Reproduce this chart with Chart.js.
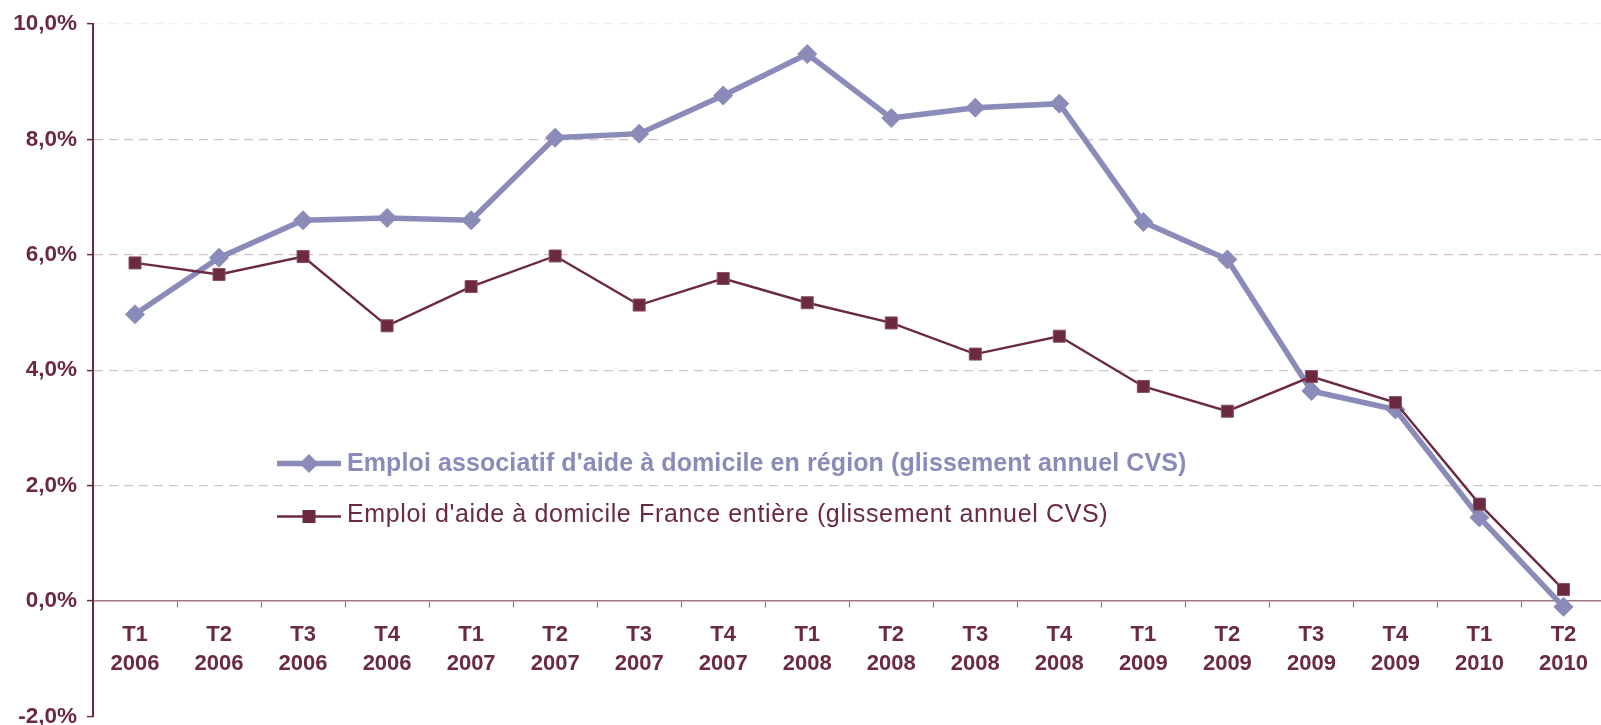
<!DOCTYPE html>
<html><head><meta charset="utf-8">
<script src="https://cdn.jsdelivr.net/npm/chart.js@4.4.0/dist/chart.umd.min.js"></script>
<style>
html,body{margin:0;padding:0;background:#fff;overflow:hidden;width:1601px;height:725px}
#wrap{position:absolute;left:0;top:0;width:1616px;height:740px}
</style>
</head><body><div id="wrap"><canvas id="c" width="1616" height="740"></canvas></div>
<script>
const quarters = ['T1','T2','T3','T4','T1','T2','T3','T4','T1','T2','T3','T4','T1','T2','T3','T4','T1','T2'];
const years = ['2006','2006','2006','2006','2007','2007','2007','2007','2008','2008','2008','2008','2009','2009','2009','2009','2010','2010'];
const regionSeries = [4.97,5.95,6.60,6.64,6.60,8.03,8.10,8.76,9.48,8.37,8.55,8.62,6.57,5.92,3.64,3.32,1.45,-0.10];
const franceSeries = [5.86,5.66,5.97,4.77,5.45,5.98,5.13,5.59,5.17,4.82,4.28,4.59,3.72,3.29,3.89,3.44,1.68,0.20];
const seriesLabels = [
  "Emploi associatif d'aide à domicile en région (glissement annuel CVS)",
  "Emploi d'aide à domicile France entière (glissement annuel CVS)"
];
const yTicks = [-2,0,2,4,6,8,10];

const categories = quarters.map((q,i)=>[q, years[i]]);
const LAV = '#8b8bb9';
const MAR = '#6b2942';
const FONT = "'Liberation Sans', Arial, sans-serif";
Chart.defaults.font.family = FONT;

const legendPlugin = {
  id: 'insideLegend',
  afterDatasetsDraw(chart){
    const ctx = chart.ctx;
    const ds = chart.data.datasets;
    const rows = [
      {y: 463.5, base: 470.5, bold: true, spacing: '0.1px'},
      {y: 516.5, base: 522, bold: false, spacing: '0.65px'}
    ];
    ds.forEach((d, i) => {
      const r = rows[i];
      ctx.save();
      ctx.strokeStyle = d.borderColor;
      ctx.lineWidth = d.borderWidth;
      ctx.beginPath(); ctx.moveTo(277, r.y); ctx.lineTo(341, r.y); ctx.stroke();
      ctx.fillStyle = d.pointBackgroundColor;
      ctx.beginPath();
      if (d.pointStyle === 'rectRot') {
        const s = 9.5;
        ctx.moveTo(309 - s, r.y); ctx.lineTo(309, r.y - s); ctx.lineTo(309 + s, r.y); ctx.lineTo(309, r.y + s);
      } else {
        ctx.rect(309 - 6.5, r.y - 6.5, 13, 13);
      }
      ctx.closePath(); ctx.fill();
      ctx.fillStyle = i === 0 ? LAV : MAR;
      ctx.font = (r.bold ? 'bold ' : '') + '25px ' + FONT;
      ctx.letterSpacing = r.spacing;
      ctx.textBaseline = 'alphabetic';
      ctx.textAlign = 'left';
      ctx.fillText(d.label, 347, r.base);
      ctx.restore();
    });
  }
};

new Chart(document.getElementById('c'), {
  type: 'line',
  data: {
    labels: categories,
    datasets: [
      {
        label: seriesLabels[0], data: regionSeries,
        borderColor: LAV, borderWidth: 5.5,
        pointStyle: 'rectRot', pointRadius: 9.5, pointBackgroundColor: LAV, pointBorderColor: LAV, pointBorderWidth: 1,
        tension: 0, order: 1
      },
      {
        label: seriesLabels[1], data: franceSeries,
        borderColor: MAR, borderWidth: 2.4,
        pointStyle: 'rect', pointRadius: 8.5, pointBackgroundColor: MAR, pointBorderColor: '#8a5066', pointBorderWidth: 1,
        tension: 0, order: 0
      }
    ]
  },
  options: {
    responsive: false,
    animation: false,
    devicePixelRatio: 1,
    layout: {padding: {top: 24, bottom: 23, left: 0, right: 1}},
    plugins: {legend: {display: false}, tooltip: {enabled: false}},
    scales: {
      x: {
        type: 'category',
        position: {y: 0},
        offset: true,
        grid: {display: true, drawOnChartArea: false, drawTicks: true, offset: true, tickLength: 6, tickColor: '#a07585', tickWidth: 1.2},
        border: {display: true, color: '#a07585', width: 1.5},
        ticks: {
          color: MAR, font: {size: 22, weight: 'bold', lineHeight: 1.34},
          padding: 13, autoSkip: false, maxRotation: 0, minRotation: 0
        }
      },
      y: {
        min: -2, max: 10,
        afterBuildTicks: s => { s.ticks = yTicks.map(v => ({value: v})); },
        afterFit: s => { s.width = 93; },
        grid: {
          color: c => (c.tick && (c.tick.value === 0 || c.tick.value === -2)) ? 'rgba(0,0,0,0)' : (c.tick && c.tick.value === 10 ? '#f3ecef' : '#d6c0c9'),
          lineWidth: 1.2, tickLength: 6, tickColor: MAR, tickWidth: 1.5, drawTicks: true
        },
        border: {display: true, color: MAR, width: 2, dash: [9, 6]},
        ticks: {
          color: MAR, font: {size: 22.5, weight: 'bold'}, padding: 10,
          callback: v => v.toFixed(1).replace('.', ',') + '%'
        }
      }
    }
  },
  plugins: [legendPlugin]
});
</script>
</body></html>
